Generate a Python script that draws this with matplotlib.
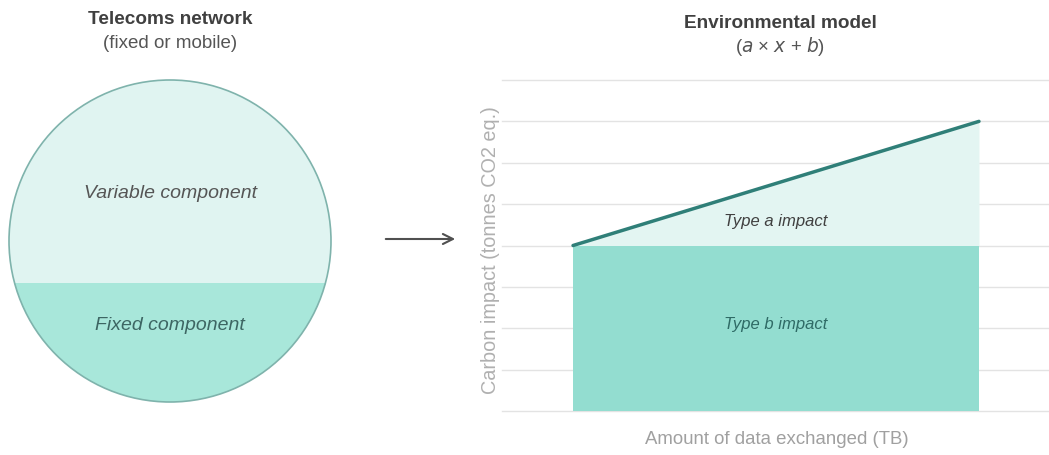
import numpy as np
import matplotlib.pyplot as plt
from matplotlib.patches import Circle, Rectangle

plt.rcParams['font.family'] = ['Liberation Sans', 'DejaVu Sans']

# data for the environmental model (a * x + b)
data_x = [0, 8]            # amount of data exchanged (TB), start and end
impact_b = 4               # fixed part (type b)
impact_a = 0.375           # slope (type a)
total_impact = [impact_b + impact_a * x for x in data_x]
grid_levels = list(range(0, 9))

# share of the circle height taken by the fixed component
fixed_share = 0.37

fig = plt.figure(figsize=(10.49, 4.55), dpi=100)

# background axes in pixel units for the diagram on the left
bg = fig.add_axes([0, 0, 1, 1])
bg.set_xlim(0, 1049)
bg.set_ylim(455, 0)
bg.axis('off')

cx, cy, r = 170, 241, 161
light = '#e0f4f1'
dark = '#a8e7da'
circ = Circle((cx, cy), r, facecolor=light, edgecolor='none', zorder=1)
bg.add_patch(circ)
split_y = cy + r - 2 * r * fixed_share
low = Rectangle((cx - r, split_y), 2 * r, 2 * r, facecolor=dark, edgecolor='none', zorder=2)
bg.add_patch(low)
low.set_clip_path(circ)
bg.add_patch(Circle((cx, cy), r, facecolor='none', edgecolor='#7fb3ac', lw=1.2, zorder=3))

bg.text(cx, 20, 'Telecoms network', ha='center', va='center', fontsize=13.7,
        fontweight='bold', color='#404040')
bg.text(cx, 43, '(fixed or mobile)', ha='center', va='center', fontsize=13.5, color='#555555')
bg.text(cx, 193, 'Variable component', ha='center', va='center', fontsize=14,
        style='italic', color='#555555')
bg.text(cx, 325, 'Fixed component', ha='center', va='center', fontsize=14,
        style='italic', color='#3d6663')

bg.annotate('', xy=(458, 239), xytext=(383, 239),
            arrowprops=dict(arrowstyle='->', color='#505050', lw=1.5, mutation_scale=18))

bg.text(780, 23, 'Environmental model', ha='center', va='center', fontsize=13.7,
        fontweight='bold', color='#404040')
bg.text(780, 46, r'($a$ × $x$ + $b$)', ha='center', va='center', fontsize=13.4, color='#555555')

# right chart
ax = fig.add_axes([502 / 1049, 44 / 455, 547 / 1049, 331 / 455])
ax.set_xlim(-1.40, 9.38)
ax.set_ylim(0, 8)
for g in grid_levels:
    ax.axhline(g, color='#e3e3e3', lw=1.0, zorder=0, clip_on=False)

ax.fill_between(data_x, 0, impact_b, color='#93ddd0', lw=0, zorder=1)
ax.fill_between(data_x, impact_b, total_impact, color='#e3f5f2', lw=0, zorder=1)
ax.plot(data_x, total_impact, color='#2f7f78', lw=2.5, solid_capstyle='round', zorder=3)

ax.text(np.mean(data_x), 4.57, 'Type a impact', ha='center', va='center', fontsize=12,
        style='italic', color='#404040')
ax.text(np.mean(data_x), 2.08, 'Type b impact', ha='center', va='center', fontsize=12,
        style='italic', color='#2f6b66')

ax.set_xticks([])
ax.set_yticks([])
for s in ax.spines.values():
    s.set_visible(False)
ax.set_facecolor('none')

fig.text(490 / 1049, 1 - 250 / 455, 'Carbon impact (tonnes CO2 eq.)', rotation=90,
         ha='center', va='center', fontsize=14.3, color='#b0b0b0')
fig.text(777 / 1049, 1 - 440 / 455, 'Amount of data exchanged (TB)', ha='center',
         va='center', fontsize=13.4, color='#a0a0a0')

fig.savefig('out.png', dpi=100)
